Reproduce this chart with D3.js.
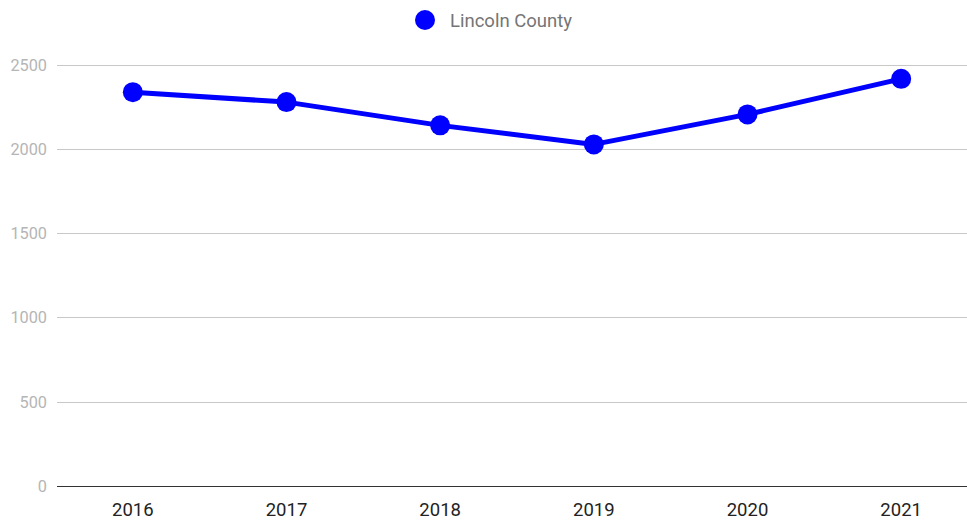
<!DOCTYPE html>
<html><head><meta charset="utf-8">
<script src="https://cdn.jsdelivr.net/npm/d3@7"></script>
<style>body{margin:0;background:#fff;}svg{display:block;font-family:Roboto,sans-serif;}</style>
</head><body>
<svg id="c" width="967" height="520"></svg>
<script>
const years = ["2016","2017","2018","2019","2020","2021"];
const seriesName = "Lincoln County";
const values = [2336, 2277, 2139, 2026, 2204, 2415];
const yTicks = [0, 500, 1000, 1500, 2000, 2500];

const svg = d3.select("#c");
const x = d3.scalePoint().domain(years).range([56, 978]).padding(0.5);
const y = d3.scaleLinear().domain([0, 2500]).range([486, 64.5]);

const grid = svg.append("g");
grid.selectAll("line").data(yTicks.filter(d => d > 0)).join("line")
  .attr("x1", 57).attr("x2", 967)
  .attr("y1", d => Math.round(y(d)) + 0.5).attr("y2", d => Math.round(y(d)) + 0.5)
  .attr("stroke", "#c8c8c8").attr("stroke-width", 1.2);

svg.append("g").selectAll("text").data(yTicks).join("text")
  .attr("x", 47).attr("y", d => y(d) + 6)
  .attr("text-anchor", "end").attr("fill", "#b5b5b5")
  .attr("font-size", 16.3).text(d => d);

svg.append("line").attr("x1", 57).attr("x2", 967)
  .attr("y1", Math.round(y(0)) + 0.5).attr("y2", Math.round(y(0)) + 0.5)
  .attr("stroke", "#333").attr("stroke-width", 1.2);

svg.append("g").selectAll("text").data(years).join("text")
  .attr("x", d => x(d)).attr("y", 516)
  .attr("text-anchor", "middle").attr("fill", "#222")
  .attr("font-size", 18.5).text(d => d);

const line = d3.line().x((d, i) => x(years[i])).y(d => y(d));
svg.append("path").datum(values).attr("d", line)
  .attr("fill", "none").attr("stroke", "#0000ff").attr("stroke-width", 5)
  .attr("stroke-linejoin", "round");
svg.append("g").selectAll("circle").data(values).join("circle")
  .attr("cx", (d, i) => x(years[i])).attr("cy", d => y(d)).attr("r", 10)
  .attr("fill", "#0000ff");

const leg = svg.append("g");
leg.append("circle").attr("cx", 425).attr("cy", 20).attr("r", 10).attr("fill", "#0000ff");
leg.append("text").attr("x", 450).attr("y", 26.5).attr("fill", "#757575")
  .attr("font-size", 18.5).text(seriesName);
</script>
</body></html>
